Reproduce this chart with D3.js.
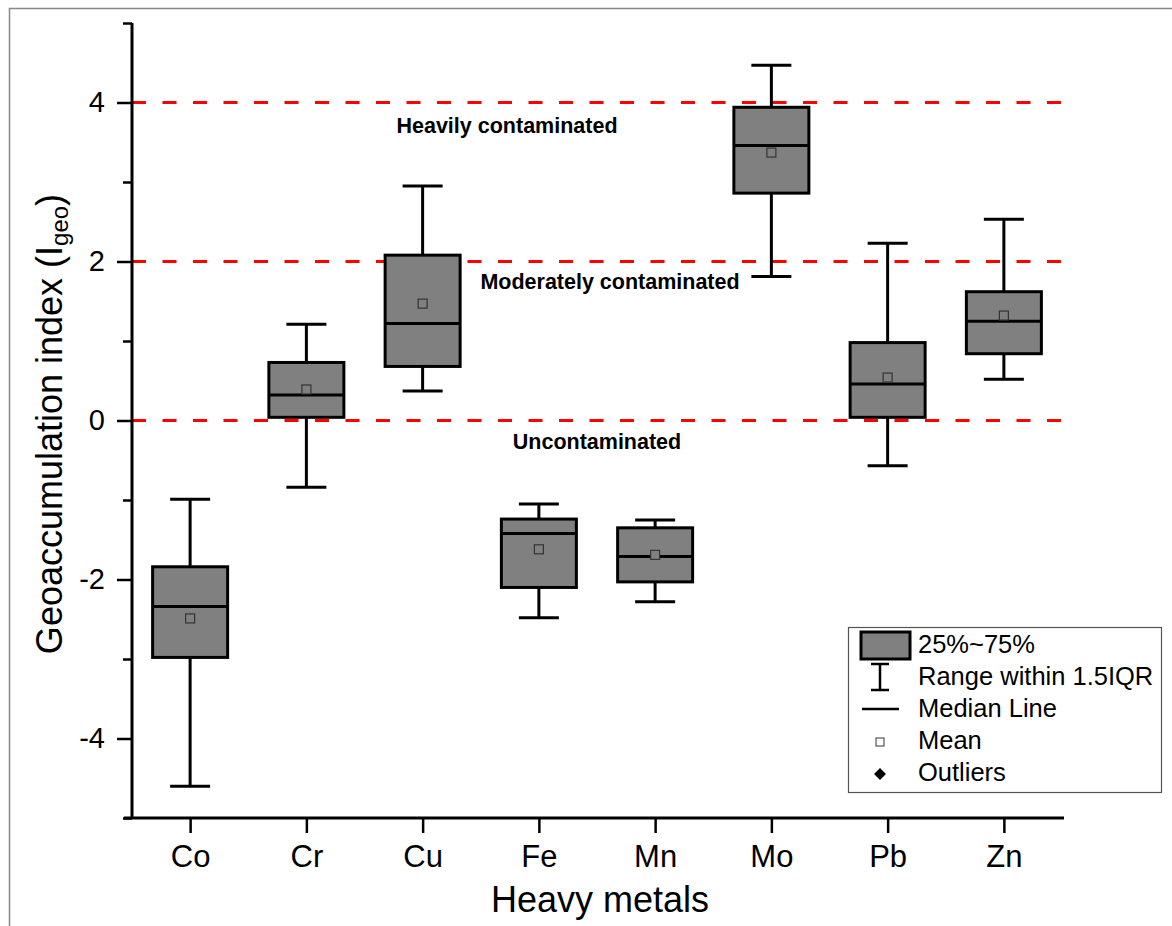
<!DOCTYPE html>
<html>
<head>
<meta charset="utf-8">
<script src="https://cdn.jsdelivr.net/npm/d3@7"></script>
<style>
  body { margin: 0; background: #fff; }
  text { font-family: "Liberation Sans", Arial, sans-serif; }
</style>
</head>
<body>
<svg id="chart" width="1172" height="926"></svg>
<script>
// data
const metals = ["Co", "Cr", "Cu", "Fe", "Mn", "Mo", "Pb", "Zn"];
const whisker_low  = [-4.60, -0.84, 0.37, -2.48, -2.28, 1.81, -0.57, 0.52];
const q1           = [-2.98,  0.04, 0.68, -2.10, -2.03, 2.86,  0.04, 0.84];
const median       = [-2.34,  0.32, 1.22, -1.42, -1.71, 3.46,  0.46, 1.25];
const mean         = [-2.49,  0.39, 1.47, -1.62, -1.69, 3.37,  0.54, 1.32];
const q3           = [-1.84,  0.73, 2.08, -1.24, -1.35, 3.94,  0.98, 1.62];
const whisker_high = [-0.99,  1.21, 2.95, -1.05, -1.25, 4.47,  2.23, 2.53];

const thresholds = [0, 2, 4];
const threshold_labels = ["Uncontaminated", "Moderately contaminated", "Heavily contaminated"];
const y_major_ticks = [-4, -2, 0, 2, 4];
const y_minor_ticks = [-5, -3, -1, 1, 3, 5];
const legend_labels = ["25%~75%", "Range within 1.5IQR", "Median Line", "Mean", "Outliers"];

const svg = d3.select("#chart");

let plot_left = 132, plot_right = 1062, plot_top = 23, plot_bottom = 818;
let box_width = 75, cap_width = 40;

// outer frame
svg.append("rect")
    .attr("x", 9.5).attr("y", 8.5)
    .attr("width", 1200).attr("height", 1000)
    .attr("fill", "none").attr("stroke", "#888").attr("stroke-width", 1.5);

var x = d3.scalePoint().domain(metals).range([plot_left, plot_right]).padding(0.5);
var y = d3.scaleLinear().domain([-5, 5]).range([plot_bottom, plot_top]);

// threshold lines
svg.selectAll(".thr").data(thresholds).enter().append("line")
    .attr("x1", plot_left).attr("x2", plot_right)
    .attr("y1", d => y(d)).attr("y2", d => y(d))
    .attr("stroke", "#ff0000").attr("stroke-width", 3)
    .attr("stroke-dasharray", "14,16.5");

let label_x = [597, 610, 507];
let label_dy = [28, 27, 30];
thresholds.forEach((t, i) => {
    svg.append("text")
        .attr("x", label_x[i]).attr("y", y(t) + label_dy[i])
        .attr("text-anchor", "middle")
        .attr("font-size", 21.5).attr("font-weight", "bold")
        .text(threshold_labels[i]);
});

// boxes
let rows = metals.map((m, i) => ({
    m: m, lo: whisker_low[i], q1: q1[i], med: median[i],
    mean: mean[i], q3: q3[i], hi: whisker_high[i]
}));

let g = svg.selectAll(".box").data(rows).enter().append("g")
    .attr("transform", d => "translate(" + x(d.m) + ",0)");

g.append("line").attr("x1", 0).attr("x2", 0)
    .attr("y1", d => y(d.hi)).attr("y2", d => y(d.lo))
    .attr("stroke", "#000").attr("stroke-width", 3);
g.append("line").attr("x1", -cap_width / 2).attr("x2", cap_width / 2)
    .attr("y1", d => y(d.hi)).attr("y2", d => y(d.hi))
    .attr("stroke", "#000").attr("stroke-width", 3);
g.append("line").attr("x1", -cap_width / 2).attr("x2", cap_width / 2)
    .attr("y1", d => y(d.lo)).attr("y2", d => y(d.lo))
    .attr("stroke", "#000").attr("stroke-width", 3);
g.append("rect")
    .attr("x", -box_width / 2).attr("width", box_width)
    .attr("y", d => y(d.q3)).attr("height", d => y(d.q1) - y(d.q3))
    .attr("fill", "#808080").attr("stroke", "#000").attr("stroke-width", 3);
g.append("line").attr("x1", -box_width / 2).attr("x2", box_width / 2)
    .attr("y1", d => y(d.med)).attr("y2", d => y(d.med))
    .attr("stroke", "#000").attr("stroke-width", 3);
g.append("rect")
    .attr("x", -4.5).attr("width", 9)
    .attr("y", d => y(d.mean) - 4.5).attr("height", 9)
    .attr("fill", "#808080").attr("stroke", "#333").attr("stroke-width", 1.2);

// axes
let y_axis = svg.append("g").attr("transform", "translate(" + plot_left + ",0)")
    .call(d3.axisLeft(y).tickValues(y_major_ticks).tickSize(15).tickPadding(12)
        .tickFormat(d3.format("d")));
let y_minor = svg.append("g").attr("transform", "translate(" + plot_left + ",0)")
    .call(d3.axisLeft(y).tickValues(y_minor_ticks).tickSize(9).tickFormat(""));
y_minor.select(".domain").remove();
y_axis.select(".domain").attr("stroke-width", 3).attr("d", "M0," + plot_top + "V" + plot_bottom);
y_axis.selectAll(".tick line").attr("stroke-width", 2.5);
y_minor.selectAll(".tick line").attr("stroke-width", 2.5);
y_axis.selectAll("text").attr("font-size", 29).attr("fill", "#000")
    .attr("font-family", "Liberation Sans, Arial, sans-serif")
    .text(d => d < 0 ? "-" + Math.abs(d) : d);

let x_axis = svg.append("g").attr("transform", "translate(0," + plot_bottom + ")")
    .call(d3.axisBottom(x).tickSize(15).tickPadding(12));
x_axis.select(".domain").attr("stroke-width", 3).attr("d", "M" + (plot_left - 8) + ",0H" + (plot_right + 2));
x_axis.selectAll(".tick line").attr("stroke-width", 2.5);
x_axis.selectAll("text").attr("font-size", 31).attr("fill", "#000")
    .attr("font-family", "Liberation Sans, Arial, sans-serif");

// axis titles
svg.append("text")
    .attr("x", (plot_left + plot_right) / 2 + 3).attr("y", 912)
    .attr("text-anchor", "middle").attr("font-size", 36)
    .text("Heavy metals");

let yt = svg.append("text")
    .attr("transform", "translate(62,424) rotate(-90)")
    .attr("text-anchor", "middle").attr("font-size", 36);
yt.append("tspan").text("Geoaccumulation index (I");
yt.append("tspan").attr("font-size", 24).attr("dy", 6).text("geo");
yt.append("tspan").attr("dy", -6).text(")");

// legend
let lg = svg.append("g");
lg.append("rect").attr("x", 848.5).attr("y", 627.5).attr("width", 313).attr("height", 165)
    .attr("fill", "#fff").attr("stroke", "#555").attr("stroke-width", 1.2);
let row_y = [645, 677, 709, 741, 773];
lg.append("rect").attr("x", 861).attr("y", 632).attr("width", 49).attr("height", 27)
    .attr("fill", "#808080").attr("stroke", "#000").attr("stroke-width", 3);
lg.append("line").attr("x1", 880).attr("x2", 880).attr("y1", 664).attr("y2", 690)
    .attr("stroke", "#000").attr("stroke-width", 2.5);
lg.append("line").attr("x1", 871).attr("x2", 889).attr("y1", 664).attr("y2", 664)
    .attr("stroke", "#000").attr("stroke-width", 2.5);
lg.append("line").attr("x1", 871).attr("x2", 889).attr("y1", 690).attr("y2", 690)
    .attr("stroke", "#000").attr("stroke-width", 2.5);
lg.append("line").attr("x1", 862).attr("x2", 899).attr("y1", 709).attr("y2", 709)
    .attr("stroke", "#000").attr("stroke-width", 2.5);
lg.append("rect").attr("x", 876).attr("y", 738).attr("width", 8).attr("height", 8)
    .attr("fill", "#fff").attr("stroke", "#333").attr("stroke-width", 1);
lg.append("path").attr("d", d3.symbol(d3.symbolDiamond2, 90)())
    .attr("transform", "translate(880,774)").attr("fill", "#000");
legend_labels.forEach((t, i) => {
    lg.append("text").attr("x", 918).attr("y", row_y[i] + 8)
        .attr("font-size", 25.5).text(t);
});
</script>
</body>
</html>
